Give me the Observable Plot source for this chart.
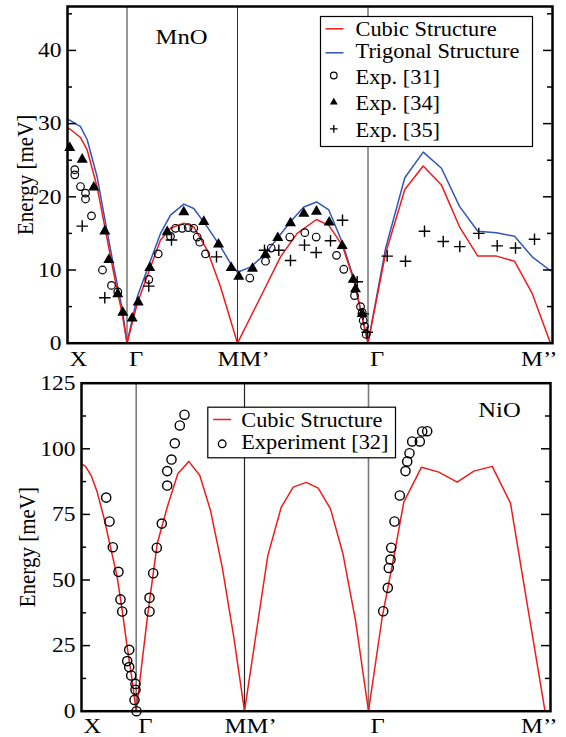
<!DOCTYPE html>
<html><head><meta charset="utf-8">
<script src="https://cdn.jsdelivr.net/npm/d3@7"></script>
<script src="https://cdn.jsdelivr.net/npm/@observablehq/plot@0.6"></script>
<style>
html,body{margin:0;padding:0;background:#fff;}
#chart{width:566px;height:737px;position:relative;overflow:hidden;background:#fff;}
#chart svg{display:block;}
</style></head><body><div id="chart"></div>
<script>
// ===== MnO panel (path coordinate q along X–Γ–M|M'–Γ–M'') =====
const mnoTickPos = [0, 59.5, 170, 170, 300.5, 483];
const mnoTickLabels = ["X", "Γ", "M", "M’", "Γ", "M’’"];
const mnoYMajor = [0, 10, 20, 30, 40];
const mnoYMinor = [5, 15, 25, 35, 45];
const mnoCubic = [[0,29.4],[3,29.2],[13,28.1],[19.7,26.4],[29.7,21.3],[37.3,15.9],[46.3,9.5],[54.7,4.0],[59.5,0],
  [69.7,5.4],[83,10.4],[93,14.1],[103,15.7],[116.3,16.4],[126.3,15.9],[139.7,12.7],[153,7.7],[170,0],
  [196.3,7.2],[213,11.8],[229.7,15.0],[249,16.9],[261.3,16.1],[274.7,13.4],[286.3,8.6],[300.5,0],
  [318,12.2],[337.3,21.0],[355.7,24.2],[374,21.6],[392,15.9],[410.3,11.9],[429,11.9],[447,11.2],[464.7,6.8],[483,0]];
const mnoTrigonal = [[0,30.6],[3,30.4],[13,29.6],[19.7,27.8],[29.7,22.7],[37.3,17.0],[46.3,10.4],[54.7,4.7],[59.5,0],
  [69.7,6.3],[83,11.3],[93,15.0],[103,17.5],[116.3,19.0],[126.3,18.4],[139.7,15.9],[153,13.2],[163,10.9],[170,9.7],
  [183,10.4],[196.3,12.0],[209.7,14.3],[223,16.6],[236.3,18.6],[249,19.3],[261.3,18.2],[274.7,13.8],[286.3,8.8],[300.5,0],
  [318,12.9],[337.3,22.6],[355.7,26.1],[374,23.9],[392,18.7],[410.3,15.3],[429,15.1],[447,14.6],[464.7,11.8],[483,9.9]];
const mnoExp31 = [[7.3,23.7],[7.3,23.0],[13,21.4],[18,20.5],[18,19.7],[24,17.4],[35,10.0],[44,7.9],[50.3,7.0],
  [81.3,8.7],[90.7,12.2],[103,14.6],[108,15.7],[114.7,15.7],[120.7,15.8],[126.3,15.7],[129.7,14.5],[132.3,13.8],[138,12.2],
  [182.3,8.9],[198,11.2],[203.7,13.0],[222.3,14.5],[237.3,15.1],[248.7,14.5],[269,12.0],[276.3,10.1],[287,6.5],
  [293,5.0],[294.7,4.2],[295.7,3.1],[297,2.3],[298.7,1.2]];
const mnoExp34 = [[2.3,26.7],[14.7,25.1],[26.3,21.3],[37.3,15.3],[41.3,11.4],[50.3,6.7],[55.3,4.2],[64.7,3.4],[70.7,5.6],
  [82.3,10.3],[99.7,15.2],[116.3,17.9],[136.3,16.6],[151,13.5],[163.7,10.3],[171.3,9.1],[185,10.2],[198,12.1],
  [210.3,14.4],[223,16.4],[236.3,17.7],[249,18.0],[261.7,16.5],[274.7,13.3],[285.7,8.7],[288,7.4],[294.7,4.0]];
const mnoExp35 = [[14.7,16.0],[37.3,6.2],[81.3,7.8],[104,14.1],[149,11.8],[197,12.7],[211.3,12.7],[223,11.3],[237,13.4],
  [248.7,12.4],[263,14.0],[275,16.8],[289.7,8.4],[295.7,4.0],[299.7,1.5],[319.7,11.9],[338,11.2],[357,15.3],[375.7,13.9],
  [392.3,13.2],[411.3,15.0],[429.7,13.3],[448,13.0],[467,14.2]];
const mnoLegend = ["Cubic Structure", "Trigonal Structure", "Exp. [31]", "Exp. [34]", "Exp. [35]"];

// ===== NiO panel =====
const nioTickPos = [0, 54.7, 163, 163, 287, 463.5];
const nioTickLabels = ["X", "Γ", "M", "M’", "Γ", "M’’"];
const nioYMajor = [0, 25, 50, 75, 100, 125];
const nioYMinor = [12.5, 37.5, 62.5, 87.5, 112.5];
const nioCubic = [[0,94.3],[4,93.3],[9.7,89.8],[15.7,83.5],[22.3,73.9],[29,62.5],[35.7,51.1],[40.7,38.4],[45.7,24.4],[50.7,11.7],[54.7,0],
  [66.3,37.1],[75.7,63.8],[85.7,77.7],[96.3,90.5],[107.3,95.2],[118.3,89.8],[129,76.5],[140.7,54.9],[152.3,28.2],[163,0],
  [186.3,59.3],[199.7,77.7],[211.7,85.4],[224.7,87.2],[236.7,85.0],[249,77.1],[261.3,60.2],[274,34.6],[287,0],
  [300.7,35.8],[312.3,58.7],[322.3,79.7],[340,93.0],[357.3,91.1],[375.7,87.3],[392.3,91.5],[410.7,93.3],[429,79.3],[444,44.7],[463.5,0]];
const nioExp = [[24.7,81.4],[28,72.3],[31.3,62.5],[37,53.1],[39,42.6],[40.7,38.0],[47.7,23.4],[45.7,19.1],[47.7,16.8],[49.7,13.6],
  [54,10.4],[54,8.2],[53,4.3],[55,0],
  [68,38.0],[68,43.2],[71.7,52.6],[75.3,62.3],[80.3,71.5],[85.7,86.0],[85.7,91.5],[90,95.9],[93.3,102.1],[98.3,108.9],[103,113.0],
  [301.7,38.1],[306.3,47.0],[307.3,54.6],[309,57.8],[309.7,62.3],[313,72.3],[318.3,82.2],[324,91.5],[325.7,95.2],[328,98.3],
  [330.7,102.8],[338.3,102.8],[340.7,106.6],[345.7,106.7]];
const nioLegend = ["Cubic Structure", "Experiment [32]"];

// ===== styling =====
const FONT = "'Liberation Serif', 'Times New Roman', serif";
const RED = "#f01b1b", BLUE = "#3355bb";
const W = 566;
const dash = {draw(ctx, size) { const r = Math.sqrt(size / Math.PI); ctx.moveTo(-r, 0); ctx.lineTo(r, 0); }};

function stretchText(svg, s) {
  svg.querySelectorAll("text").forEach(t => {
    let tr = t.getAttribute("transform") || "";
    const x = t.getAttribute("x");
    if (x !== null && x !== "" && !isNaN(+x)) { tr += ` translate(${x},0)`; t.removeAttribute("x"); }
    const rot = tr.includes("rotate");
    t.setAttribute("transform", (tr + (rot ? ` scale(1,${s})` : ` scale(${s},1)`)).trim());
  });
}

function labelMarks(pos, labels, endFrameDx, dy) {
  const items = labels.map((label, i) => ({label, q: pos[i], i}));
  const last = labels.length - 1;
  const startItems = items.filter(d => d.label !== "M" && d.i !== last);
  const mItems = items.filter(d => d.label === "M");
  return [
    Plot.text(startItems, {x: "q", text: "label", frameAnchor: "bottom", textAnchor: "start", lineAnchor: "top", dx: 2, dy, fontSize: 22}),
    Plot.text(mItems, {x: "q", text: "label", frameAnchor: "bottom", textAnchor: "end", lineAnchor: "top", dx: 2, dy, fontSize: 22}),
    Plot.text([items[last]], {text: "label", frameAnchor: "bottom-right", textAnchor: "end", lineAnchor: "top", dx: endFrameDx, dy, fontSize: 22})
  ];
}

function yTickMarks(major, minor, innerW) {
  return [
    Plot.tickY(major, {y: d => d, insetRight: innerW - 9, stroke: "black", strokeWidth: 1.5}),
    Plot.tickY(major, {y: d => d, insetLeft: innerW - 9, stroke: "black", strokeWidth: 1.5}),
    Plot.tickY(minor, {y: d => d, insetRight: innerW - 5, stroke: "black", strokeWidth: 1.5}),
    Plot.tickY(minor, {y: d => d, insetLeft: innerW - 5, stroke: "black", strokeWidth: 1.5}),
    Plot.text(major, {y: d => d, text: d => String(d), frameAnchor: "left", textAnchor: "end", lineAnchor: "middle", dx: -6, fontSize: 21})
  ];
}

// ---------- top panel ----------
const tML = 67, tMR = 14, tMT = 6, tH = 372, tMB = tH - 342.7;
const tInner = W - tML - tMR;
const topPlot = Plot.plot({
  width: W, height: tH, marginLeft: tML, marginRight: tMR, marginTop: tMT, marginBottom: tMB,
  style: {fontFamily: FONT, background: "white", color: "black"},
  x: {domain: [0, 485], axis: null},
  y: {domain: [0, 46], axis: null},
  marks: [
    Plot.ruleX(mnoTickPos.filter(q => q > 0 && q < 483), {stroke: "#333", strokeWidth: 1}),
    Plot.line(mnoTrigonal, {x: d => d[0], y: d => d[1], stroke: BLUE, strokeWidth: 1.5}),
    Plot.line(mnoCubic, {x: d => d[0], y: d => d[1], stroke: RED, strokeWidth: 1.5}),
    Plot.dot(mnoExp31, {x: d => d[0], y: d => d[1], r: 3.8, stroke: "black", strokeWidth: 1.2, fill: "none"}),
    Plot.dot(mnoExp34, {x: d => d[0], y: d => d[1], r: 4.1, symbol: "triangle", fill: "black", stroke: "none"}),
    Plot.dot(mnoExp35, {x: d => d[0], y: d => d[1], r: 3.8, symbol: "plus", stroke: "black", strokeWidth: 1.4}),
    ...yTickMarks(mnoYMajor, mnoYMinor, tInner),
    Plot.text(["Energy [meV]"], {frameAnchor: "left", rotate: -90, dx: -42, textAnchor: "middle", lineAnchor: "middle", fontSize: 21}),
    Plot.text(["MnO"], {frameAnchor: "top-left", dx: 114, dy: 30, textAnchor: "middle", lineAnchor: "middle", fontSize: 22}),
    // legend
    Plot.frame({insetLeft: 253, insetTop: 10, insetRight: 20, insetBottom: 196.7, fill: "white", stroke: "black", strokeWidth: 1.2}),
    Plot.dot([0], {frameAnchor: "top-left", dx: 267, dy: 22.3, r: 9, symbol: dash, stroke: RED, strokeWidth: 1.5, fill: "none"}),
    Plot.dot([0], {frameAnchor: "top-left", dx: 267, dy: 46.3, r: 9, symbol: dash, stroke: BLUE, strokeWidth: 1.5, fill: "none"}),
    Plot.dot([0], {frameAnchor: "top-left", dx: 266.3, dy: 69, r: 3.3, stroke: "black", strokeWidth: 1.2, fill: "none"}),
    Plot.dot([0], {frameAnchor: "top-left", dx: 266.3, dy: 95.7, r: 2.9, symbol: "triangle", fill: "black", stroke: "none"}),
    Plot.dot([0], {frameAnchor: "top-left", dx: 266.3, dy: 122.3, r: 2.6, symbol: "plus", stroke: "black", strokeWidth: 1.3}),
    ...mnoLegend.map((s, i) => Plot.text([s], {frameAnchor: "top-left", dx: 288, dy: [23.5, 44.8, 71.3, 97.3, 124][i], textAnchor: "start", lineAnchor: "middle", fontSize: 20})),
    ...labelMarks(mnoTickPos, mnoTickLabels, 5, 7.3),
    Plot.frame({stroke: "black", strokeWidth: 2.5})
  ]
});

// ---------- bottom panel ----------
const bML = 81, bMR = 16, bMT = 10.7, bH = 365, bMB = bH - 338.7;
const bInner = W - bML - bMR;
const botPlot = Plot.plot({
  width: W, height: bH, marginLeft: bML, marginRight: bMR, marginTop: bMT, marginBottom: bMB,
  style: {fontFamily: FONT, background: "white", color: "black"},
  x: {domain: [0, 469], axis: null},
  y: {domain: [0, 125], axis: null},
  marks: [
    Plot.ruleX([nioTickPos[1], nioTickPos[4]], {stroke: "#7a7a7a", strokeWidth: 1.6}),
    Plot.ruleX([nioTickPos[2]], {stroke: "#222", strokeWidth: 1.2}),
    Plot.line(nioCubic, {x: d => d[0], y: d => d[1], stroke: RED, strokeWidth: 1.5}),
    Plot.dot(nioExp, {x: d => d[0], y: d => d[1], r: 4.6, stroke: "black", strokeWidth: 1.4, fill: "none"}),
    ...yTickMarks(nioYMajor, nioYMinor, bInner),
    Plot.text(["Energy [meV]"], {frameAnchor: "left", rotate: -90, dx: -54, textAnchor: "middle", lineAnchor: "middle", fontSize: 21}),
    Plot.text(["NiO"], {frameAnchor: "top-left", dx: 418, dy: 26.8, textAnchor: "middle", lineAnchor: "middle", fontSize: 22}),
    // legend
    Plot.frame({insetLeft: 126.3, insetTop: 24, insetRight: 155, insetBottom: 253.4, fill: "white", stroke: "black", strokeWidth: 1.2}),
    Plot.dot([0], {frameAnchor: "top-left", dx: 140.7, dy: 36.3, r: 9, symbol: dash, stroke: RED, strokeWidth: 1.5, fill: "none"}),
    Plot.dot([0], {frameAnchor: "top-left", dx: 140.7, dy: 60.6, r: 3.8, stroke: "black", strokeWidth: 1.3, fill: "none"}),
    ...nioLegend.map((s, i) => Plot.text([s], {frameAnchor: "top-left", dx: 159.7, dy: [37.6, 59.4][i], textAnchor: "start", lineAnchor: "middle", fontSize: 20})),
    ...labelMarks(nioTickPos, nioTickLabels, 7, 6.3),
    Plot.frame({stroke: "black", strokeWidth: 2.5})
  ]
});

stretchText(topPlot, 1.12);
stretchText(botPlot, 1.12);
const chart = document.getElementById("chart");
chart.appendChild(topPlot);
chart.appendChild(botPlot);
</script>
</body></html>
